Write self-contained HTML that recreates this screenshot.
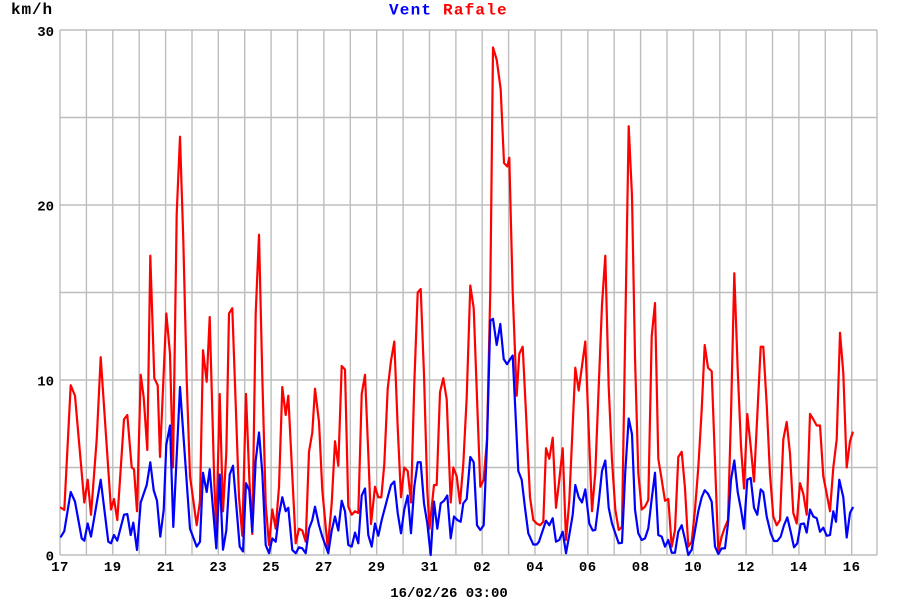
<!DOCTYPE html>
<html><head><meta charset="utf-8"><style>
html,body{margin:0;padding:0;background:#fff;}
svg{display:block;}
text{font-family:"Liberation Mono",monospace;font-weight:bold;}
</style></head><body>
<svg width="900" height="600" viewBox="0 0 900 600" xmlns="http://www.w3.org/2000/svg">
<rect x="0" y="0" width="900" height="600" fill="#fff"/>
<g stroke="#bdbdbd" stroke-width="1.4" fill="none">
<line x1="60" y1="30" x2="877" y2="30"/>
<line x1="60" y1="117.5" x2="877" y2="117.5"/>
<line x1="60" y1="205" x2="877" y2="205"/>
<line x1="60" y1="292.5" x2="877" y2="292.5"/>
<line x1="60" y1="380" x2="877" y2="380"/>
<line x1="60" y1="467.5" x2="877" y2="467.5"/>
<line x1="60" y1="555" x2="877" y2="555"/>
<line x1="877" y1="30" x2="877" y2="555"/>
<line x1="60" y1="30" x2="60" y2="555"/>
<line x1="86.4" y1="30" x2="86.4" y2="555"/>
<line x1="112.8" y1="30" x2="112.8" y2="555"/>
<line x1="139.2" y1="30" x2="139.2" y2="555"/>
<line x1="165.6" y1="30" x2="165.6" y2="555"/>
<line x1="192" y1="30" x2="192" y2="555"/>
<line x1="218.3" y1="30" x2="218.3" y2="555"/>
<line x1="244.7" y1="30" x2="244.7" y2="555"/>
<line x1="271.1" y1="30" x2="271.1" y2="555"/>
<line x1="297.5" y1="30" x2="297.5" y2="555"/>
<line x1="323.9" y1="30" x2="323.9" y2="555"/>
<line x1="350.3" y1="30" x2="350.3" y2="555"/>
<line x1="376.7" y1="30" x2="376.7" y2="555"/>
<line x1="403.1" y1="30" x2="403.1" y2="555"/>
<line x1="429.5" y1="30" x2="429.5" y2="555"/>
<line x1="455.9" y1="30" x2="455.9" y2="555"/>
<line x1="482.2" y1="30" x2="482.2" y2="555"/>
<line x1="508.6" y1="30" x2="508.6" y2="555"/>
<line x1="535" y1="30" x2="535" y2="555"/>
<line x1="561.4" y1="30" x2="561.4" y2="555"/>
<line x1="587.8" y1="30" x2="587.8" y2="555"/>
<line x1="614.2" y1="30" x2="614.2" y2="555"/>
<line x1="640.6" y1="30" x2="640.6" y2="555"/>
<line x1="667" y1="30" x2="667" y2="555"/>
<line x1="693.4" y1="30" x2="693.4" y2="555"/>
<line x1="719.8" y1="30" x2="719.8" y2="555"/>
<line x1="746.1" y1="30" x2="746.1" y2="555"/>
<line x1="772.5" y1="30" x2="772.5" y2="555"/>
<line x1="798.9" y1="30" x2="798.9" y2="555"/>
<line x1="825.3" y1="30" x2="825.3" y2="555"/>
<line x1="851.7" y1="30" x2="851.7" y2="555"/>
</g>

<g transform="translate(0,555) scale(1,-17.5)" fill="none" stroke-linejoin="round" stroke-linecap="round">
<polyline vector-effect="non-scaling-stroke" stroke="#ff0000" stroke-width="2.2" points="
61,2.7 64.3,2.57 70.7,9.7 75,9.1 84.3,3.0 87.7,4.3 91,2.3 96.7,6.6 100.7,11.3 111,2.6 114,3.2 117.3,2.0 124,7.75 127.3,8.0 131.7,5.0 134,4.9 137,2.5 140.7,10.3 143.7,9.0 147.3,6.0 150.3,17.1 154.3,10.1 157.7,9.7 160,5.6 166.3,13.8 170,11.5 173,5.0 176.7,19.5 180,23.9 183.3,18 186.7,10 190,4.5 196.7,1.7 200,3.1 203,11.7 206.7,9.9 209.7,13.6 214.3,4.1 216.3,1.4 219.7,9.2 223,2.5 226.3,5.8 229,13.8 232.3,14.1 239,3.3 242.3,1.1 246,9.2 249.3,4.4 252.3,1.2 255.7,13.8 259,18.3 262.3,10.2 265.7,2.9 269,0.57 272.3,2.6 275.7,1.5 279,3.9 282.3,9.6 285.7,8.0 288.3,9.1 295.7,0.67 299,1.5 302.3,1.4 305.7,0.76 309,5.9 312.3,7.0 315,9.5 319,7.6 322.3,3.7 327.7,0.4 331.7,2.95 335,6.5 338.3,5.1 341.7,10.8 345,10.6 348.3,2.76 351.7,2.3 355,2.5 358.3,2.4 361.7,9.2 365,10.3 368.3,5.8 371,1.77 375,3.9 378.3,3.3 381.3,3.3 384.3,5.2 387.7,9.5 391,11.1 394.3,12.2 397.7,7.3 401,3.3 404.3,5.0 407.7,4.8 411,3.0 414.3,9.8 417.7,15.0 420.7,15.2 424,10.3 427.3,3.7 429.5,1.5 434,4.0 436.7,4.0 440,9.3 443.3,10.1 446.7,8.9 450.7,3.0 453.3,5.0 456.7,4.5 460,2.95 463.3,5.2 466.7,9.0 470.3,15.4 473.7,14.1 480.3,3.9 483.7,4.3 487,6.6 490.3,15.1 493,29.0 496.7,28.3 500.7,26.6 504,22.4 507.3,22.2 509.3,22.7 512.7,15 516.7,9.1 519.3,11.5 522.7,11.9 526,8.1 530,3.3 533.3,2.0 536.7,1.8 540,1.7 543.3,1.9 546,6.1 549.3,5.5 552.7,6.7 556,2.7 559.3,4.3 562.7,6.1 566,0.86 569.3,3.1 575.3,10.7 578.7,9.4 582,10.8 585.3,12.2 588.7,7.2 592,2.5 595.3,4.7 598.7,9.6 602,14.3 605.3,17.1 608.7,9.6 612,5.4 615.3,2.6 618.7,1.43 622,1.6 625.3,13 628.7,24.5 632,20.5 635,11.3 638.3,4.7 641.7,2.6 645,2.76 648.3,3.14 651.7,12.5 655,14.4 658.3,5.5 661.7,4.3 665,3.1 668.3,3.2 671.7,0.48 675,1.43 678.3,5.6 681.7,5.9 685,3.8 688.3,0.48 691.7,0.76 695,2.6 698.3,5 701.7,8.3 704.7,12.0 708,10.7 711.7,10.5 718.3,0.2 721.7,1.05 725,1.6 728,2.0 731,8 734.3,16.1 737.7,10.6 741,6.2 744,3.8 747.3,8.06 750.7,6.2 754,4.2 760.7,11.9 763.3,11.9 766.7,8.6 770,4.6 773.3,2.2 776.7,1.7 780,2.0 783.3,6.6 786.7,7.6 790,5.8 793.3,2.4 796.7,1.8 800,4.1 803.3,3.5 806.7,2.3 810,8.06 813.3,7.75 816.7,7.4 820,7.4 823.3,4.5 826.7,3.5 830,2.5 833.3,5.0 836.7,6.6 840,12.7 843.3,10.4 846.7,5.0 850,6.5 852.7,7.0"/>
<polyline vector-effect="non-scaling-stroke" stroke="#0000ff" stroke-width="2.2" points="
61,1.05 64.3,1.37 70.7,3.6 75,3.05 81.7,0.95 84.3,0.82 87.7,1.8 91,1.05 100.7,4.3 108.3,0.76 111,0.67 114,1.14 117.3,0.82 124,2.3 127.3,2.34 130.7,1.14 133.3,1.85 137,0.29 140.7,3.0 146.7,4.0 150.3,5.3 153.7,3.7 157,3.1 160.3,1.05 163.7,2.57 166.3,6.3 170,7.4 173.3,1.6 180,9.6 190,1.5 196.7,0.48 200,0.76 203,4.7 206.7,3.6 209.7,4.9 216.3,0.38 219.7,4.6 223,0.3 226.3,1.4 229.7,4.6 233,5.1 239.7,0.48 243,0.2 246,4.1 249.3,3.7 252.3,1.33 255.7,5.4 259,7.0 262.3,4.7 265.7,0.57 269,0.1 272.3,0.95 275.7,0.76 279,2.3 282.3,3.3 285.7,2.5 288.3,2.7 292.3,0.29 295.7,0.1 299,0.44 302.3,0.38 305.7,0.1 309,1.5 312.3,2.0 315,2.76 319,1.7 322.3,1.05 328.3,0.1 331.7,1.4 335,2.2 338.3,1.4 341.7,3.1 345,2.5 348.3,0.57 351.7,0.48 355,1.28 358.3,0.67 361.7,3.4 365,3.8 368.3,1.14 371.7,0.48 375,1.8 378.3,1.1 381.7,2.0 387.7,3.3 391,4.0 394.3,4.2 397.7,2.4 401,1.24 404.3,2.6 407.7,3.4 411,1.24 414.3,3.9 417.7,5.3 420.7,5.3 424,2.95 427.3,1.8 430.7,0 434,3.05 437.3,1.5 440.7,2.95 444,3.1 447.3,3.4 450.7,0.95 454,2.2 457.3,2.0 460.7,1.9 463.3,2.95 466.7,3.2 470.3,5.6 473.7,5.3 477,1.7 480.3,1.43 483.7,1.7 487,6.4 490.3,13.4 493,13.5 496.7,12.0 500.3,13.2 503.7,11.2 507,10.9 510.3,11.2 512.7,11.4 518.3,4.8 521.7,4.3 525,2.7 528.3,1.24 533.3,0.6 536.7,0.6 539,0.76 542.3,1.33 546,1.96 549.3,1.7 552.7,2.1 556,0.76 559.3,0.86 562.7,1.33 566,0.1 569.3,1.14 572.7,2.3 575.3,4.0 578.7,3.3 582,3.0 585.3,3.75 589.3,1.8 592.7,1.4 595.3,1.43 598.7,3.0 602,4.8 605.3,5.4 608.7,2.7 612,1.8 615.3,1.24 618.7,0.67 622,0.7 625.3,4.8 628.7,7.8 632,6.9 635,2.6 638.3,1.24 641.7,0.86 645,0.95 648.3,1.52 651.7,3.2 655,4.7 658.3,1.14 661.7,1.05 665,0.48 668.3,0.86 671.7,0.13 675,0.13 678.3,1.33 681.7,1.7 685,0.9 688.3,0 691.7,0.3 695,1.4 698.3,2.5 701.7,3.3 704.7,3.7 708,3.5 711.7,3.05 715,0.48 718.3,0.06 721.7,0.38 725,0.38 728,1.8 731,4.3 734.3,5.4 737.7,3.6 741,2.6 744,1.5 747.3,4.3 750.7,4.4 754,2.7 757.3,2.3 760.7,3.75 763.3,3.6 766.7,2.2 770.7,1.24 774,0.8 777.3,0.8 780.7,1.05 784,1.7 787.3,2.15 790.7,1.33 794,0.44 797.3,0.67 800.7,1.77 804,1.8 806.7,1.28 810,2.6 813.3,2.2 816.7,2.1 820,1.33 823.3,1.56 826.7,1.1 830,1.14 833.3,2.5 836,1.9 839.3,4.3 843.3,3.3 846.7,1.0 850,2.4 852.7,2.7"/>
</g>

<text x="11" y="14" font-size="16" letter-spacing="0.9" fill="#000">km/h</text>
<text x="389" y="14.5" font-size="16" letter-spacing="1.2"><tspan fill="#0000ff">Vent</tspan> <tspan fill="#ff0000">Rafale</tspan></text>

<g font-size="14" fill="#000" text-anchor="end">
<text x="54" y="36">30</text>
<text x="54" y="210.5">20</text>
<text x="54" y="385.5">10</text>
<text x="54" y="560.5">0</text>
</g>

<g font-size="14" fill="#000" text-anchor="middle" letter-spacing="0.5">
<text x="60" y="571">17</text>
<text x="112.8" y="571">19</text>
<text x="165.6" y="571">21</text>
<text x="218.3" y="571">23</text>
<text x="271.1" y="571">25</text>
<text x="323.9" y="571">27</text>
<text x="376.7" y="571">29</text>
<text x="429.5" y="571">31</text>
<text x="482.2" y="571">02</text>
<text x="535" y="571">04</text>
<text x="587.8" y="571">06</text>
<text x="640.6" y="571">08</text>
<text x="693.4" y="571">10</text>
<text x="746.1" y="571">12</text>
<text x="798.9" y="571">14</text>
<text x="851.7" y="571">16</text>
</g>

<text x="449" y="597" font-size="14" text-anchor="middle" fill="#000">16/02/26 03:00</text>
</svg>
</body></html>
